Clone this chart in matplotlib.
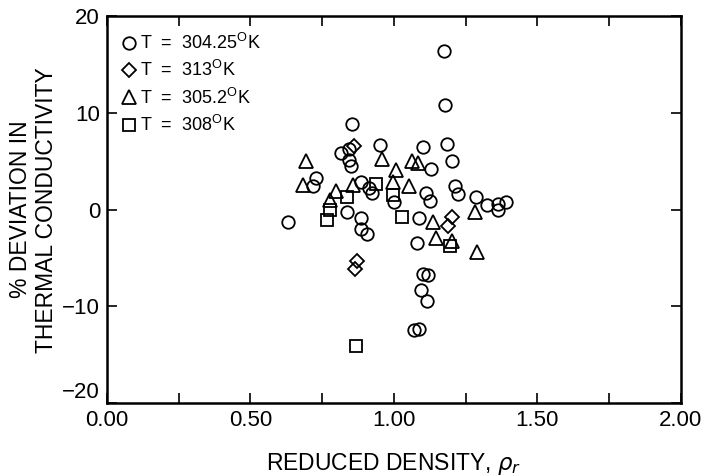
import matplotlib
matplotlib.use("Agg")
import matplotlib.pyplot as plt
from matplotlib.ticker import MultipleLocator, FormatStrFormatter

plt.rcParams["font.family"] = ["Liberation Sans", "DejaVu Sans"]
plt.rcParams["mathtext.default"] = "regular"

# T = 304.25 K (circles)
rho_304 = [0.632, 0.717, 0.728, 0.817, 0.842, 0.845, 0.849, 0.854, 0.837, 0.887,
           0.912, 0.923, 0.884, 0.884, 0.907, 0.952, 1.000, 1.088, 1.079, 1.100,
           1.120, 1.096, 1.114, 1.070, 1.088, 1.102, 1.128, 1.111, 1.125, 1.174,
           1.178, 1.186, 1.201, 1.213, 1.222, 1.286, 1.323, 1.363, 1.363, 1.390]
dev_304 = [-1.3, 2.4, 3.3, 5.9, 6.3, 5.1, 4.5, 8.9, -0.2, 2.9,
           2.2, 1.7, -0.9, -1.95, -2.55, 6.7, 0.8, -0.9, -3.4, -6.7,
           -6.8, -8.3, -9.4, -12.4, -12.3, 6.5, 4.2, 1.7, 0.9, 16.4,
           10.8, 6.8, 5.0, 2.4, 1.6, 1.3, 0.5, 0.6, -0.05, 0.8]

# T = 313 K (diamonds)
rho_313 = [0.861, 0.870, 0.864, 1.204, 1.190]
dev_313 = [6.6, -5.3, -6.1, -0.8, -1.7]

# T = 305.2 K (triangles)
rho_305 = [0.693, 0.682, 0.798, 0.777, 0.856, 0.958, 1.007, 0.998, 1.052, 1.062,
           1.085, 1.135, 1.146, 1.204, 1.282, 1.288]
dev_305 = [5.0, 2.5, 1.9, 1.05, 2.5, 5.2, 4.1, 2.9, 2.4, 5.0,
           4.8, -1.3, -2.9, -3.2, -0.2, -4.4]

# T = 308 K (squares)
rho_308 = [0.779, 0.768, 0.837, 0.937, 0.998, 1.030, 1.197, 0.868]
dev_308 = [0.0, -1.1, 1.3, 2.7, 1.5, -0.75, -3.8, -14.1]

series = [
    (rho_304, dev_304, "o", 9.0, r"T  =  304.25$^{O}$K"),
    (rho_313, dev_313, "D", 7.5, r"T  =  313$^{O}$K"),
    (rho_305, dev_305, "^", 9.5, r"T  =  305.2$^{O}$K"),
    (rho_308, dev_308, "s", 8.5, r"T  =  308$^{O}$K"),
]

fig = plt.figure(figsize=(7.04, 4.76), dpi=100)
ax = fig.add_axes([0.152, 0.153, 0.815, 0.813])

for x, y, m, ms, lab in series:
    ax.plot(x, y, linestyle="none", marker=m, markersize=ms,
            markerfacecolor="none", markeredgecolor="black",
            markeredgewidth=1.3, label=lab)

ax.set_xlim(0, 2)
ax.set_ylim(-20, 20)
ax.xaxis.set_major_locator(MultipleLocator(0.5))
ax.xaxis.set_minor_locator(MultipleLocator(0.25))
ax.xaxis.set_major_formatter(FormatStrFormatter("%.2f"))
ax.yaxis.set_major_locator(MultipleLocator(10))
ax.tick_params(axis="both", which="both", direction="in", top=True, right=True,
               width=1.2, labelsize=16, length=7)
ax.tick_params(axis="x", pad=5)
ax.tick_params(axis="y", pad=5)
for sp in ax.spines.values():
    sp.set_linewidth(1.8)

ax.set_xlabel(r"REDUCED DENSITY, $\it{\rho}_{r}$", fontsize=16.5, labelpad=14)
ax.set_ylabel("% DEVIATION IN\nTHERMAL CONDUCTIVITY", fontsize=16.5,
              linespacing=1.15, labelpad=3)

ax.legend(loc="upper left", bbox_to_anchor=(0.0, 0.985), frameon=False,
          fontsize=13, handletextpad=0.05, labelspacing=0.4,
          borderaxespad=0.3, handlelength=1.2, borderpad=0.3)

# lowest y label sits slightly above its tick, clear of "0.00"
fig.canvas.draw()
for tick in ax.yaxis.get_major_ticks():
    if abs(tick.get_loc() + 20) < 1e-9:
        tick.label1.set_verticalalignment("bottom")

fig.savefig("out.png", dpi=100)
